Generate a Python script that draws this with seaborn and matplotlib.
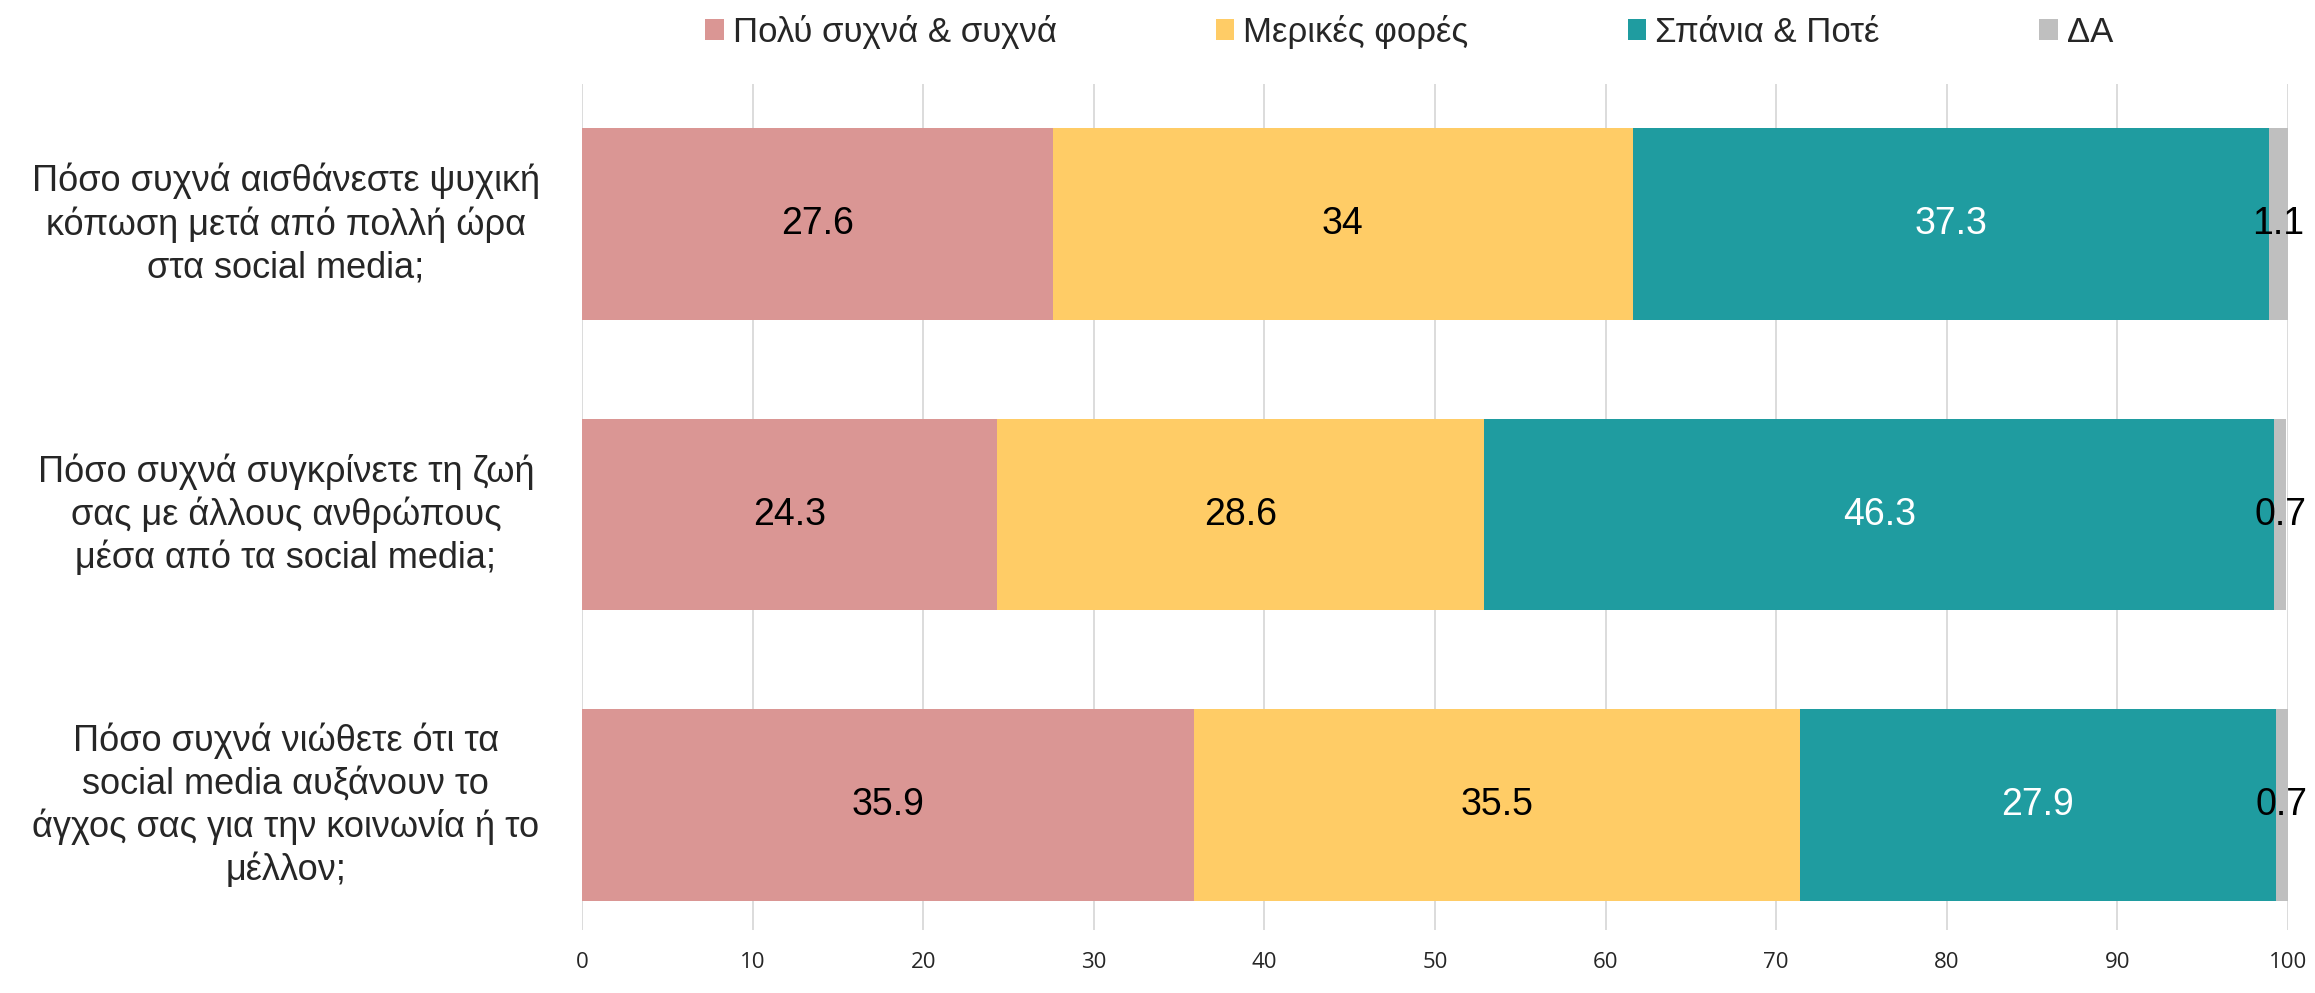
import matplotlib
matplotlib.use("Agg")
import matplotlib.pyplot as plt
import seaborn as sns
import pandas as pd
import numpy as np
from matplotlib.patches import Patch
import matplotlib.transforms as mtransforms

questions = [
    "Πόσο συχνά αισθάνεστε ψυχική\nκόπωση μετά από πολλή ώρα\nστα social media;",
    "Πόσο συχνά συγκρίνετε τη ζωή\nσας με άλλους ανθρώπους\nμέσα από τα social media;",
    "Πόσο συχνά νιώθετε ότι τα\nsocial media αυξάνουν το\nάγχος σας για την κοινωνία ή το\nμέλλον;",
]
series_names = ["Πολύ συχνά & συχνά", "Μερικές φορές", "Σπάνια & Ποτέ", "ΔΑ"]
often = [27.6, 24.3, 35.9]
sometimes = [34, 28.6, 35.5]
rarely = [37.3, 46.3, 27.9]
dk = [1.1, 0.7, 0.7]
xticks = [0, 10, 20, 30, 40, 50, 60, 70, 80, 90, 100]

colors = ["#DA9694", "#FFCC66", "#1F9CA0", "#BFBFBF"]
label_colors = ["black", "black", "white", "black"]

sns.set_theme(style="white")
plt.rcParams["font.family"] = ["Liberation Sans", "DejaVu Sans"]

values = [often, sometimes, rarely, dk]
cum = np.zeros(len(questions))
cums = []
for v in values:
    cum = cum + np.array(v)
    cums.append(cum.copy())

fig = plt.figure(figsize=(23.15, 9.93), dpi=100)
ax = fig.add_axes([0.2514, 0.0634, 0.9883 - 0.2514, 0.9154 - 0.0634])

for i in range(len(values) - 1, -1, -1):
    d = pd.DataFrame({"q": questions, "end": cums[i]})
    sns.barplot(data=d, x="end", y="q", orient="h", color=colors[i],
                width=0.66, saturation=1, ax=ax, zorder=2, linewidth=0)

for i, v in enumerate(values):
    for j, val in enumerate(v):
        center = cums[i][j] - val / 2
        ax.text(center, j, f"{val:g}", ha="center", va="center",
                fontsize=27, color=label_colors[i], zorder=3)

ax.set_xlim(0, 100)
ax.set_ylim(2.43, -0.482)
ax.set_xticks(xticks)
ax.set_xticklabels([str(t) for t in xticks], fontsize=16,
                   family=["Open Sans", "DejaVu Sans"])
ax.tick_params(axis="x", length=0, pad=16)
ax.tick_params(axis="y", length=0)
ax.set_yticks(range(len(questions)))
ax.set_yticklabels([])
trans = mtransforms.blended_transform_factory(fig.transFigure, ax.transData)
for j, q in enumerate(questions):
    ax.text(0.1235, j, q, transform=trans, ha="center", va="center",
            fontsize=26, linespacing=1.26)

ax.grid(axis="x", color="#D9D9D9", linewidth=1.3, zorder=0)
ax.set_axisbelow(True)
for s in ax.spines.values():
    s.set_visible(False)
ax.set_xlabel("")
ax.set_ylabel("")

handles = [Patch(facecolor=c, edgecolor="none") for c in colors]
fig.legend(handles, series_names, loc="center", bbox_to_anchor=(0.6087, 0.968),
           ncol=4, frameon=False, prop={"size": 25},
           handlelength=0.52, handleheight=0.52, handletextpad=0.26,
           columnspacing=4.6, borderpad=0)

fig.savefig("out.png", dpi=100, facecolor="white")
